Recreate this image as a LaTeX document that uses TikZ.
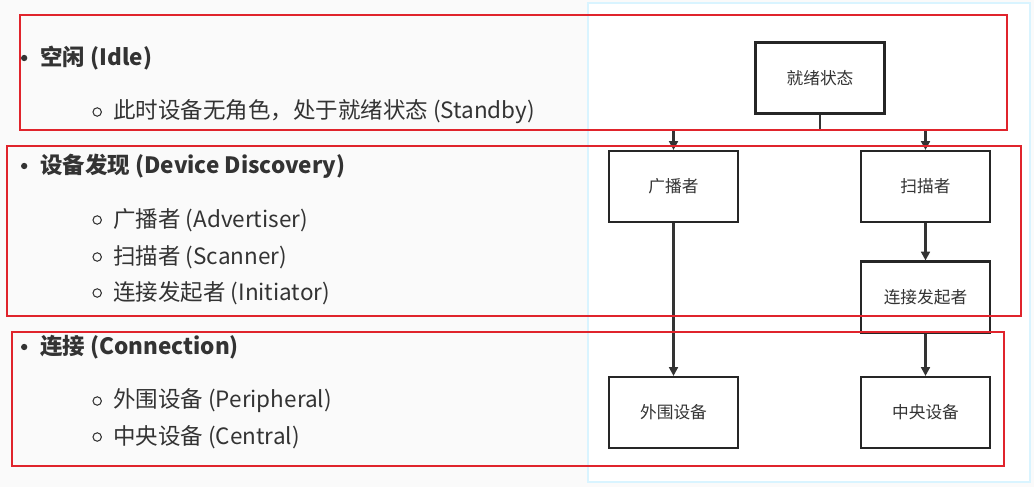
\documentclass[tikz,border=0pt]{standalone}
\usepackage{fontspec}
\setmainfont{Noto Sans CJK SC}
\usetikzlibrary{arrows.meta}
\definecolor{redline}{HTML}{E0242C}
\definecolor{txt}{HTML}{333333}
\tikzset{
  box/.style={draw=black!85, line width=1.2pt, minimum width=2.58cm, minimum height=1.42cm, font=\fontsize{9.5}{11}\selectfont, text=txt},
  link/.style={line width=1.2pt, draw=black!80, -{Triangle[length=5pt,width=5pt]}},
  frame/.style={draw=redline, line width=0.9pt},
  item/.style={anchor=west, font=\fontsize{12.8}{14}\selectfont, text=txt, inner sep=0pt},
  head/.style={item, font=\fontsize{12.8}{14}\selectfont\bfseries}
}
\begin{document}
\begin{tikzpicture}[x=0.02cm, y=-0.02cm]
\useasboundingbox (0,0) rectangle (1034,487);
\fill[black!2] (0,0) rectangle (1034,487);
% diagram panel
\fill[white] (588,3) rectangle (1030,482);
\draw[blue!30!cyan!15, line width=1.5pt] (588,3) rectangle (1030,482);
% list
\node[head] (idle) at (40,58) {空闲 (Idle)};
\node[item] (standby) at (113,112) {此时设备无角色，处于就绪状态 (Standby)};
\node[head] (disc) at (40,166) {设备发现 (Device Discovery)};
\node[item] (adv) at (113,220) {广播者 (Advertiser)};
\node[item] (scan) at (113,257) {扫描者 (Scanner)};
\node[item] (init) at (113,293) {连接发起者 (Initiator)};
\node[head] (conn) at (40,347) {连接 (Connection)};
\node[item] (peri) at (113,401) {外围设备 (Peripheral)};
\node[item] (cent) at (113,437) {中央设备 (Central)};
\foreach \n in {idle,disc,conn}
  \fill[txt] ([xshift=-9pt]\n.west) circle (1.8pt);
\foreach \n in {standby,adv,scan,init,peri,cent}
  \draw[txt, line width=0.6pt] ([xshift=-9pt]\n.west) circle (2.4pt);
% diagram
\node[box] (ready) at (820,78) {就绪状态};
\node[box] (bcast) at (673.5,186.5) {广播者};
\node[box] (scnr) at (925.5,186.5) {扫描者};
\node[box] (start) at (925.5,297) {连接发起者};
\node[box] (perib) at (673.5,412.5) {外围设备};
\node[box] (centb) at (925.5,412.5) {中央设备};
\coordinate (split) at (820,130);
\draw[line width=1.2pt, draw=black!80] (ready.south) -- (split);
\draw[link] (split) -| (bcast.north);
\draw[link] (split) -| (scnr.north);
\draw[link] (bcast) -- (perib);
\draw[link] (scnr) -- (start);
\draw[link] (start) -- (centb);
% frames
\draw[frame] (20,15) rectangle (1007,130);
\draw[frame] (7,146) rectangle (1021,316);
\draw[frame] (12,332) rectangle (1004,466);
\end{tikzpicture}
\end{document}
